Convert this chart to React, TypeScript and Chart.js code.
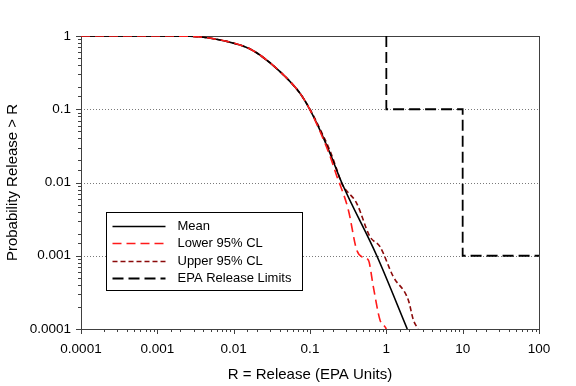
import React, { useEffect, useRef } from 'react';
import { Chart, registerables } from 'chart.js';

Chart.register(...registerables);

// ---- Data ----
const meanX = [0.0001, 0.001, 0.00268, 0.0057, 0.0121, 0.0164, 0.0221, 0.0405, 0.074, 0.1, 0.135, 0.183, 0.26, 0.75, 1.88];
const meanY = [1, 1, 0.99, 0.91, 0.753, 0.665, 0.55, 0.326, 0.165, 0.098, 0.052, 0.025, 0.01, 0.001, 0.0001];

const lowerX = [0.0001, 0.001, 0.00268, 0.0057, 0.0121, 0.0164, 0.0221, 0.0405, 0.074, 0.1, 0.135, 0.183, 0.22, 0.318, 0.409, 0.477, 0.581, 0.675, 0.826, 0.962, 1.0];
const lowerY = [1, 1, 0.99, 0.91, 0.753, 0.665, 0.55, 0.326, 0.165, 0.098, 0.05, 0.023, 0.013, 0.00422, 0.0012, 0.00097, 0.000875, 0.000378, 0.000133, 0.000107, 0.0001];

const upperX = [0.0001, 0.001, 0.00268, 0.0057, 0.0121, 0.0164, 0.0221, 0.0405, 0.074, 0.1, 0.135, 0.183, 0.22, 0.26, 0.409, 0.611, 0.826, 1.23, 1.94, 2.26, 2.6];
const upperY = [1, 1, 0.99, 0.91, 0.753, 0.665, 0.55, 0.326, 0.165, 0.1, 0.054, 0.027, 0.016, 0.00975, 0.0052, 0.00182, 0.00133, 0.00052, 0.000249, 0.000133, 0.0001];

const epaX = [1, 1, 10, 10, 100];
const epaY = [1, 0.1, 0.1, 0.001, 0.001];

const seriesLabels = ['Mean', 'Lower 95% CL', 'Upper 95% CL', 'EPA Release Limits'];
const xTitle = 'R = Release (EPA Units)';
const yTitle = 'Probability Release > R';

const FONT = "Arial, 'Liberation Sans', sans-serif";

const toPoints = (xs: number[], ys: number[]) => xs.map((x, i) => ({ x, y: ys[i] }));

const isPow10 = (v: number) => {
  const l = Math.log10(v);
  return Math.abs(l - Math.round(l)) < 1e-6;
};
const fmt = (v: number) => {
  if (!isPow10(v)) return '';
  const p = Math.round(Math.log10(v));
  return p < 0 ? Math.pow(10, p).toFixed(-p) : String(Math.pow(10, p));
};

const customPlugin = {
  id: 'custom',
  beforeDatasetsDraw(chart: any) {
    const { ctx, chartArea: a, scales } = chart;
    const xs = scales.x;
    const ys = scales.y;
    ctx.save();
    ctx.strokeStyle = '#7a7a7a';
    ctx.lineWidth = 1;
    ctx.setLineDash([1, 2]);
    for (const t of ys.ticks) {
      if (!isPow10(t.value) || t.value === ys.min || t.value === ys.max) continue;
      const py = Math.round(ys.getPixelForValue(t.value)) + 0.5;
      ctx.beginPath();
      ctx.moveTo(a.left, py);
      ctx.lineTo(a.right, py);
      ctx.stroke();
    }
    ctx.setLineDash([]);
    ctx.strokeStyle = '#404040';
    ctx.lineWidth = 1;
    ctx.strokeRect(Math.round(a.left) + 0.5, Math.round(a.top) + 0.5, Math.round(a.right - a.left), Math.round(a.bottom - a.top));
    for (const t of xs.ticks) {
      const px = Math.round(xs.getPixelForValue(t.value)) + 0.5;
      const len = isPow10(t.value) ? 5 : 3;
      ctx.beginPath();
      ctx.moveTo(px, a.bottom);
      ctx.lineTo(px, a.bottom + len);
      ctx.stroke();
    }
    for (const t of ys.ticks) {
      const py = Math.round(ys.getPixelForValue(t.value)) + 0.5;
      const len = isPow10(t.value) ? 5 : 3;
      ctx.beginPath();
      ctx.moveTo(a.left, py);
      ctx.lineTo(a.left - len, py);
      ctx.stroke();
    }
    ctx.restore();
  },
  afterDraw(chart: any) {
    const { ctx, chartArea: a } = chart;
    const left = Math.round(a.left + 25) + 0.5;
    const top = Math.round(a.top + 176) + 0.5;
    const w = 196;
    const h = 78;
    ctx.save();
    ctx.fillStyle = '#ffffff';
    ctx.fillRect(left, top, w, h);
    ctx.strokeStyle = '#000000';
    ctx.lineWidth = 1;
    ctx.setLineDash([]);
    ctx.strokeRect(left, top, w, h);
    ctx.font = `13px ${FONT}`;
    ctx.textBaseline = 'middle';
    ctx.textAlign = 'left';
    const ds = chart.data.datasets;
    seriesLabels.forEach((lab, i) => {
      const d = ds.find((q: any) => q.label === lab);
      if (!d) return;
      const y = Math.round(top + 13.5 + i * 17.3) + 0.5;
      ctx.strokeStyle = d.borderColor;
      ctx.lineWidth = d.borderWidth;
      ctx.setLineDash(d.borderDash || []);
      ctx.beginPath();
      ctx.moveTo(left + 6, y);
      ctx.lineTo(left + 59, y);
      ctx.stroke();
      ctx.setLineDash([]);
      ctx.fillStyle = '#000000';
      ctx.fillText(lab, left + 71, y);
    });
    ctx.restore();
  },
};

export default function App() {
  const ref = useRef<HTMLCanvasElement>(null);

  useEffect(() => {
    document.body.style.margin = '0';
    const canvas = ref.current!;
    const chart = new Chart(canvas, {
      type: 'scatter',
      data: {
        datasets: [
          {
            label: seriesLabels[0],
            data: toPoints(meanX, meanY),
            showLine: true,
            borderColor: '#000000',
            borderWidth: 1.6,
            pointRadius: 0,
            cubicInterpolationMode: 'monotone',
            order: 1,
          },
          {
            label: seriesLabels[1],
            data: toPoints(lowerX, lowerY),
            showLine: true,
            borderColor: '#ff1a1a',
            borderWidth: 1.6,
            borderDash: [9, 5],
            pointRadius: 0,
            cubicInterpolationMode: 'monotone',
            order: 0,
          },
          {
            label: seriesLabels[2],
            data: toPoints(upperX, upperY),
            showLine: true,
            borderColor: '#8b0a0a',
            borderWidth: 1.6,
            borderDash: [5, 3],
            pointRadius: 0,
            cubicInterpolationMode: 'monotone',
            order: 2,
          },
          {
            label: seriesLabels[3],
            data: toPoints(epaX, epaY),
            showLine: true,
            borderColor: '#000000',
            borderWidth: 1.8,
            borderDash: [11, 5],
            pointRadius: 0,
            order: 3,
          },
        ],
      } as any,
      options: {
        animation: false,
        responsive: false,
        maintainAspectRatio: false,
        layout: { padding: { top: 36, right: 37, left: 0, bottom: 0 } },
        plugins: { legend: { display: false }, tooltip: { enabled: false } },
        scales: {
          x: {
            type: 'logarithmic',
            min: 0.0001,
            max: 100,
            grid: { display: false, drawTicks: false },
            border: { display: false },
            ticks: {
              autoSkip: false,
              maxRotation: 0,
              padding: 12,
              color: '#000000',
              font: { size: 13.5, family: FONT },
              callback: (v: any) => fmt(Number(v)),
            },
            title: {
              display: true,
              text: xTitle,
              color: '#000000',
              font: { size: 15, family: FONT },
              padding: { top: 0, bottom: 2 },
            },
            afterFit: (s: any) => {
              s.height = 57;
            },
          },
          y: {
            type: 'logarithmic',
            min: 0.0001,
            max: 1,
            grid: { display: false, drawTicks: false },
            border: { display: false },
            ticks: {
              autoSkip: false,
              padding: 10,
              color: '#000000',
              font: { size: 13.5, family: FONT },
              callback: (v: any) => fmt(Number(v)),
            },
            title: {
              display: true,
              text: yTitle,
              color: '#000000',
              font: { size: 15, family: FONT },
              padding: { top: 4, bottom: 0 },
            },
            afterFit: (s: any) => {
              s.width = 81;
            },
          },
        },
      } as any,
      plugins: [customPlugin],
    });
    return () => chart.destroy();
  }, []);

  return (
    <div style={{ position: 'absolute', left: 0, top: 0, width: 576, height: 386, background: '#fff' }}>
      <canvas ref={ref} width={576} height={386} style={{ display: 'block', width: 576, height: 386 }} />
    </div>
  );
}
